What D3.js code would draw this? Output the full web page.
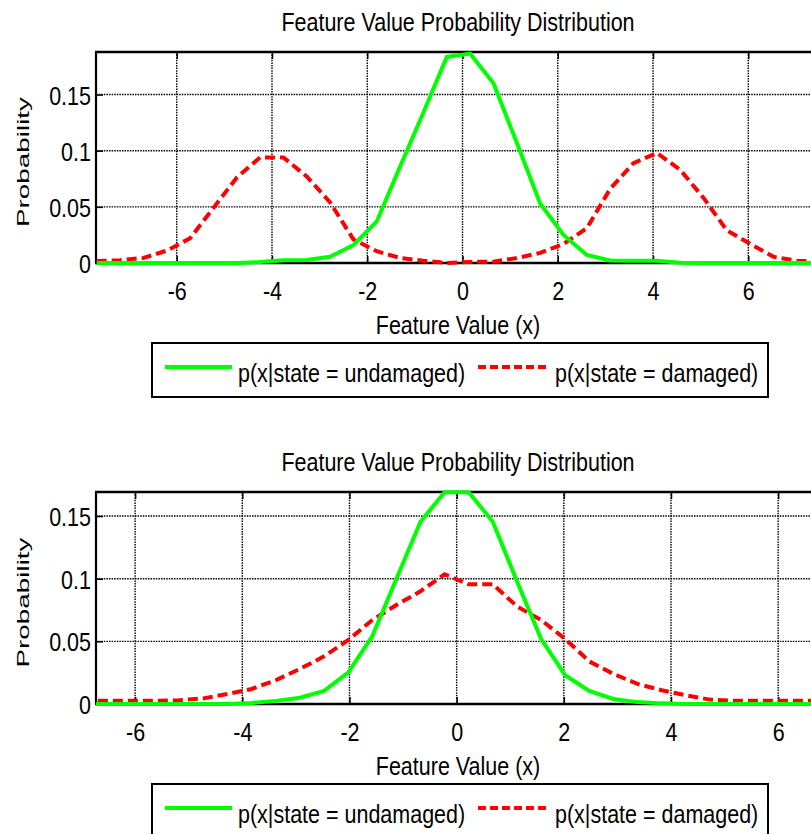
<!DOCTYPE html>
<html>
<head>
<meta charset="utf-8">
<script src="https://cdn.jsdelivr.net/npm/d3@7"></script>
<style>
  html, body { margin: 0; padding: 0; background: #fff; overflow: hidden; }
  svg { display: block; }
</style>
</head>
<body>
<svg id="fig" width="811" height="834"></svg>
<script>
// ---- data -------------------------------------------------------------
const titleText = "Feature Value Probability Distribution";
const xLabelText = "Feature Value (x)";
const yLabelText = "Probability";
const legendLabels = ["p(x|state = undamaged)", "p(x|state = damaged)"];

const xTicks = [-6, -4, -2, 0, 2, 4, 6];
const yTicks = [0, 0.05, 0.1, 0.15];

// upper panel: bin centres and histogram-based densities
const xTop = [-7.68, -7.19, -6.70, -6.21, -5.72, -5.23, -4.74, -4.25, -3.76, -3.27,
              -2.78, -2.29, -1.80, -1.31, -0.82, -0.33, 0.16, 0.65, 1.14, 1.63,
              2.12, 2.61, 3.10, 3.59, 4.08, 4.57, 5.06, 5.55, 6.04, 6.53, 7.02, 7.51];
const undamagedTop = [0, 0, 0, 0, 0, 0, 0, 0.0008, 0.0025, 0.0027,
                      0.0056, 0.016, 0.037, 0.086, 0.134, 0.1835, 0.1865, 0.160, 0.107, 0.053,
                      0.025, 0.0072, 0.0022, 0.002, 0.002, 0.0003, 0, 0, 0, 0, 0, 0];
const damagedTop = [0.0018, 0.0025, 0.0045, 0.011, 0.022, 0.049, 0.076, 0.094, 0.094, 0.077,
                    0.054, 0.021, 0.0105, 0.0045, 0.002, 0.0, 0.001, 0.0012, 0.0044, 0.009,
                    0.017, 0.031, 0.066, 0.089, 0.098, 0.083, 0.058, 0.029, 0.017, 0.0055, 0.002, 0.0012];

// lower panel
const xBottom = [-6.975, -6.525, -6.075, -5.625, -5.175, -4.725, -4.275, -3.825, -3.375, -2.925,
                 -2.475, -2.025, -1.575, -1.125, -0.675, -0.225, 0.225, 0.675, 1.125, 1.575,
                 2.025, 2.475, 2.925, 3.375, 3.825, 4.275, 4.725, 5.175, 5.625, 6.075, 6.525, 6.975];
const undamagedBottom = [0, 0, 0, 0, 0, 0, 0, 0.0008, 0.0025, 0.005,
                         0.0105, 0.025, 0.054, 0.0998, 0.1455, 0.169, 0.169, 0.1455, 0.098, 0.052,
                         0.023, 0.0105, 0.004, 0.0015, 0.0005, 0, 0, 0, 0, 0, 0, 0];
const damagedBottom = [0.0025, 0.0025, 0.0025, 0.0025, 0.003, 0.0045, 0.008, 0.012, 0.019, 0.028,
                       0.038, 0.051, 0.067, 0.079, 0.090, 0.1035, 0.0955, 0.0955, 0.078, 0.067,
                       0.052, 0.034, 0.024, 0.016, 0.011, 0.007, 0.0035, 0.0025, 0.0025, 0.0025, 0.0025, 0.0025];

// ---- drawing ----------------------------------------------------------
const FONT = "'Liberation Sans', Arial, Helvetica, sans-serif";
const FS = 21.5;        // base font size
const STRETCH = 1.2;    // vertical stretch applied to horizontal text
const GREEN = "#00ff00";
const RED = "#ff0000";

const svg = d3.select("#fig");
const defs = svg.append("defs");

function stretchedText(g, x, y, str, anchor) {
  return g.append("text")
    .attr("transform", `translate(${x},${y}) scale(1,${STRETCH})`)
    .attr("text-anchor", anchor)
    .attr("font-family", FONT)
    .attr("font-size", FS)
    .attr("fill", "#000")
    .text(str);
}

function drawPanel(cfg) {
  const { id, top, bottom, left, right, xDomain, yMax, xs, undamaged, damaged } = cfg;
  const x = d3.scaleLinear().domain(xDomain).range([left, right]);
  const y = d3.scaleLinear().domain([0, yMax]).range([bottom, top]);
  const g = svg.append("g");

  defs.append("clipPath").attr("id", id)
    .append("rect")
    .attr("x", left).attr("y", top - 3)
    .attr("width", right - left + 40).attr("height", bottom - top + 6);

  // dotted grid
  const grid = g.append("g")
    .attr("stroke", "#000").attr("stroke-width", 1.4).attr("stroke-dasharray", "1.5,1.1");
  grid.selectAll("line.gx").data(xTicks).join("line").attr("class", "gx")
    .attr("x1", d => x(d)).attr("x2", d => x(d))
    .attr("y1", top).attr("y2", bottom);
  grid.selectAll("line.gy").data(yTicks.filter(d => d > 0)).join("line").attr("class", "gy")
    .attr("x1", left).attr("x2", right)
    .attr("y1", d => y(d)).attr("y2", d => y(d));

  // tick marks and labels
  const xAxis = g.append("g").attr("transform", `translate(0,${bottom})`)
    .call(d3.axisBottom(x).tickValues(xTicks).tickSize(-7).tickSizeOuter(0)
      .tickFormat(d => String(d)));
  xAxis.select(".domain").remove();
  xAxis.selectAll(".tick line").attr("stroke", "#000").attr("stroke-width", 1.5);
  xAxis.selectAll(".tick text")
    .attr("y", null).attr("dy", null)
    .attr("transform", `translate(0,37) scale(1,${STRETCH})`)
    .attr("font-family", FONT).attr("font-size", FS).attr("fill", "#000");

  const xAxisTop = g.append("g").attr("transform", `translate(0,${top})`)
    .call(d3.axisTop(x).tickValues(xTicks).tickSize(-7).tickSizeOuter(0).tickFormat(""));
  xAxisTop.select(".domain").remove();
  xAxisTop.selectAll(".tick line").attr("stroke", "#000").attr("stroke-width", 1.5);

  const yAxis = g.append("g").attr("transform", `translate(${left},0)`)
    .call(d3.axisLeft(y).tickValues(yTicks).tickSize(-7).tickSizeOuter(0)
      .tickFormat(d => String(d)));
  yAxis.select(".domain").remove();
  yAxis.selectAll(".tick line").attr("stroke", "#000").attr("stroke-width", 1.5);
  yAxis.selectAll(".tick text")
    .attr("x", null).attr("dy", null)
    .attr("text-anchor", "end")
    .attr("transform", `translate(-5,9.5) scale(1,${STRETCH})`)
    .attr("font-family", FONT).attr("font-size", FS).attr("fill", "#000");

  // axes box
  const box = g.append("g").attr("stroke", "#000").attr("fill", "none");
  box.append("line").attr("x1", left - 1).attr("x2", right).attr("y1", top).attr("y2", top).attr("stroke-width", 2.5);
  box.append("line").attr("x1", left - 1).attr("x2", right).attr("y1", bottom).attr("y2", bottom).attr("stroke-width", 2.5);
  box.append("line").attr("x1", left).attr("x2", left).attr("y1", top).attr("y2", bottom).attr("stroke-width", 2.2);
  box.append("line").attr("x1", right).attr("x2", right).attr("y1", top).attr("y2", bottom).attr("stroke-width", 2.2);

  // curves
  const line = d3.line().x(d => x(d[0])).y(d => y(d[1]));
  const curves = g.append("g").attr("clip-path", `url(#${id})`).attr("fill", "none");
  curves.append("path").datum(d3.zip(xs, damaged))
    .attr("d", line).attr("stroke", RED).attr("stroke-width", 4)
    .attr("stroke-dasharray", "10,5");
  curves.append("path").datum(d3.zip(xs, undamaged))
    .attr("d", line).attr("stroke", GREEN).attr("stroke-width", 4)
    .attr("stroke-linejoin", "miter");

  // titles
  stretchedText(g, 458, top - 21.5, titleText, "middle");
  stretchedText(g, 458, bottom + 71, xLabelText, "middle");
  g.append("text")
    .attr("transform", `translate(29,${(top + bottom) / 2 + 4.5}) rotate(-90)`)
    .attr("text-anchor", "middle")
    .attr("font-family", FONT).attr("font-size", 17).attr("fill", "#000")
    .attr("textLength", 130).attr("lengthAdjust", "spacingAndGlyphs")
    .text(yLabelText);

  // legend
  const lg = g.append("g").attr("transform", `translate(152,${bottom + 80})`);
  lg.append("rect").attr("x", 0).attr("y", 0).attr("width", 616).attr("height", 54)
    .attr("fill", "#fff").attr("stroke", "#000").attr("stroke-width", 2);
  lg.append("line").attr("x1", 13).attr("x2", 80).attr("y1", 24).attr("y2", 24)
    .attr("stroke", GREEN).attr("stroke-width", 4);
  stretchedText(lg, 86, 38.5, legendLabels[0], "start");
  lg.append("line").attr("x1", 326).attr("x2", 394).attr("y1", 24).attr("y2", 24)
    .attr("stroke", RED).attr("stroke-width", 4).attr("stroke-dasharray", "8,4");
  stretchedText(lg, 403, 38.5, legendLabels[1], "start");
}

drawPanel({
  id: "clipTop", top: 52, bottom: 263, left: 96, right: 824.5,
  xDomain: [-7.695, 7.6], yMax: 0.1879,
  xs: xTop, undamaged: undamagedTop, damaged: damagedTop
});

drawPanel({
  id: "clipBottom", top: 492, bottom: 704, left: 96, right: 817.3,
  xDomain: [-6.73, 6.73], yMax: 0.1692,
  xs: xBottom, undamaged: undamagedBottom, damaged: damagedBottom
});
</script>
</body>
</html>
